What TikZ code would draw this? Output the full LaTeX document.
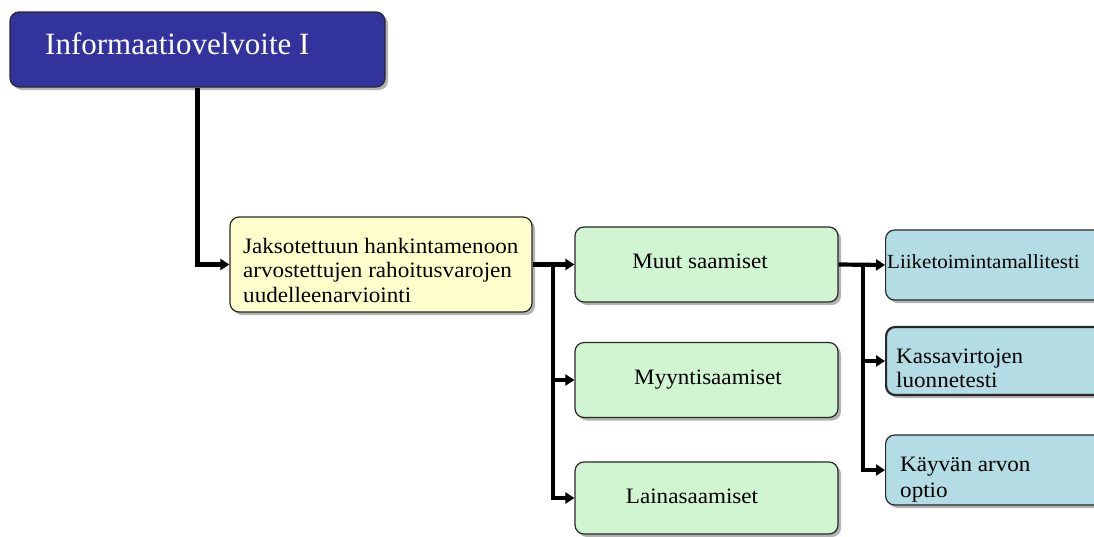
\documentclass[tikz,border=0pt]{standalone}
\usepackage{fontspec}
\setmainfont{Liberation Serif}
\newfontfamily\bxfont[FakeStretch=1.05]{Liberation Serif}
\usetikzlibrary{shadows,arrows.meta}
\definecolor{titleblue}{RGB}{51,51,158}
\definecolor{boxyellow}{RGB}{255,255,204}
\definecolor{boxgreen}{RGB}{208,245,208}
\definecolor{boxblue}{RGB}{180,220,228}
\definecolor{boxline}{RGB}{40,40,40}
\begin{document}
\begin{tikzpicture}[x=1pt,y=-1pt,
  box/.style={draw=boxline,line width=1.2pt,rounded corners=9pt,inner sep=0pt,
    drop shadow={shadow xshift=3pt,shadow yshift=-3pt,fill=black!50,opacity=0.6}},
  conn/.style={line width=4.2pt,-{Triangle[length=9pt,width=11pt]}},
  btext/.style={inner sep=0pt,font=\bxfont\fontsize{22}{24.5}\selectfont},
  ]
\useasboundingbox (0,0) rectangle (1094,536);
\clip (0,0) rectangle (1094,536);
% boxes
\node[box,fill=titleblue,minimum width=375pt,minimum height=75pt] (title) at (197.5,49.5) {};
\node[box,fill=boxyellow,minimum width=302pt,minimum height=95pt] (yel) at (381,264.5) {};
\node[box,fill=boxgreen,minimum width=263pt,minimum height=75pt] (muut) at (706.5,264.5) {};
\node[box,fill=boxgreen,minimum width=263pt,minimum height=75pt] (myy) at (706.5,380) {};
\node[box,fill=boxgreen,minimum width=263pt,minimum height=72pt] (lai) at (706.5,498) {};
\node[box,fill=boxblue,minimum width=230pt,minimum height=70pt,anchor=west] (liike) at (885,265) {};
\node[box,fill=boxblue,minimum width=230pt,minimum height=68pt,anchor=west,line width=2.2pt] (kassa) at (885,361) {};
\node[box,fill=boxblue,minimum width=230pt,minimum height=70pt,anchor=west] (kayv) at (885,470) {};
% texts
\node[anchor=base west,inner sep=0pt,text=white,font=\fontsize{31}{36}\selectfont] (titletxt) at (45,54) {Informaatiovelvoite I};
\node[btext,anchor=base west] (yeltxt) at (243,253)
  {\parbox[t]{290pt}{\raggedright Jaksotettuun hankintamenoon\\arvostettujen rahoitusvarojen\\uudelleenarviointi}};
\node[btext,anchor=base] (muuttxt) at (700,268) {Muut saamiset};
\node[btext,anchor=base] (myytxt) at (708,384) {Myyntisaamiset};
\node[btext,anchor=base] (laitxt) at (692,503) {Lainasaamiset};
\node[btext,anchor=base west,font=\bxfont\fontsize{20}{24}\selectfont] (liiketxt) at (887,268) {Liiketoimintamallitesti};
\node[btext,anchor=base west] (kassatxt) at (896,363)
  {\parbox[t]{190pt}{\raggedright Kassavirtojen\\luonnetesti}};
\node[btext,anchor=base west,font=\bxfont\fontsize{22}{26}\selectfont] (kayvtxt) at (900,471)
  {\parbox[t]{190pt}{\raggedright Käyvän arvon\\optio}};
% connectors
\coordinate (j1) at (553,264.5);
\coordinate (j2) at (863,264.5);
\draw[conn] (title.south) |- (yel.west);
\draw[conn] (yel.east) -- (muut.west);
\draw[conn] (j1) |- (myy.west);
\draw[conn] (j1) |- (lai.west);
\draw[conn] (muut.east) -- (liike.west);
\draw[conn] (j2) |- (kassa.west);
\draw[conn] (j2) |- (kayv.west);
\end{tikzpicture}
\end{document}
